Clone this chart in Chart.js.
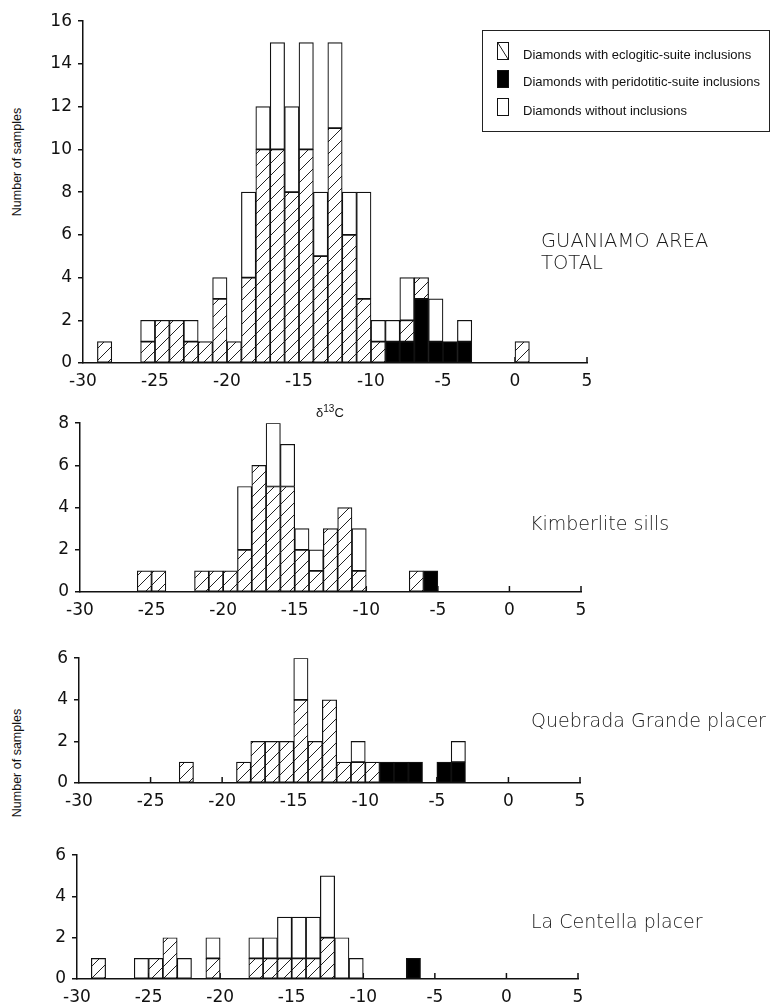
<!DOCTYPE html>
<html lang="en">
<head>
<meta charset="UTF-8" />
<title>Diamond carbon isotope histograms</title>
<script src="https://cdn.jsdelivr.net/npm/chart.js@4.4.1/dist/chart.umd.min.js"></script>
<style>
  body { margin: 0; background: #fff; width: 775px; height: 1007px; overflow: hidden; position: relative; color: #111; }
  canvas { position: absolute; }
  .lbl { position: absolute; font-family: "DejaVu Sans", sans-serif; font-weight: 300; font-size: 19px; line-height: 1; white-space: nowrap; color: #1a1a1a; }
  .ytitle { position: absolute; font-family: "Liberation Sans", Arial, sans-serif; font-size: 12.5px; white-space: nowrap; transform: translate(-50%, -50%) rotate(-90deg); }
  .legend { position: absolute; left: 482px; top: 30px; width: 288px; height: 102px; border: 1.5px solid #222; box-sizing: border-box;
            font-family: "Liberation Sans", Arial, sans-serif; font-size: 13px; }
  .legend .sw { position: absolute; left: 14px; width: 12px; height: 18px; border: 1.5px solid #111; box-sizing: border-box; background: #fff; }
  .legend .tx { position: absolute; left: 40px; white-space: nowrap; transform: translateY(-50%); }
  .delta { position: absolute; left: 316px; top: 403px; font-family: "Liberation Sans", Arial, sans-serif; font-size: 13px; }
  .delta sup { font-size: 10px; }
</style>
</head>
<body>

<canvas id="c1" width="569" height="388" style="left:33px; top:5px;"></canvas>
<canvas id="c2" width="566" height="215" style="left:30px; top:407px;"></canvas>
<canvas id="c3" width="566" height="171" style="left:29px; top:642px;"></canvas>
<canvas id="c4" width="566" height="170" style="left:27px; top:839px;"></canvas>

<div class="legend">
  <div class="sw" style="top:11px; background: linear-gradient(to top right, #fff calc(50% - 0.8px), #111 50%, #fff calc(50% + 0.8px));"></div>
  <div class="tx" style="top:23px;">Diamonds with eclogitic-suite inclusions</div>
  <div class="sw" style="top:39px; background:#000;"></div>
  <div class="tx" style="top:50px;">Diamonds with peridotitic-suite inclusions</div>
  <div class="sw" style="top:67px;"></div>
  <div class="tx" style="top:79px;">Diamonds without inclusions</div>
</div>

<div class="ytitle" style="left:17px; top:162px;">Number of samples</div>
<div class="ytitle" style="left:17px; top:763px;">Number of samples</div>
<div class="delta">&delta;<sup>13</sup>C</div>

<div class="lbl" style="left:541px; top:230px; font-size:19.5px; line-height:22px;">GUANIAMO AREA<br>TOTAL</div>
<div class="lbl" style="left:530px; top:514px;">Kimberlite sills</div>
<div class="lbl" style="left:531px; top:711px;">Quebrada Grande placer</div>
<div class="lbl" style="left:531px; top:912px;">La Centella placer</div>

<script>
// bin left edges of delta13C (1 per mil bins)
const bins = [-30, -29, -28, -27, -26, -25, -24, -23, -22, -21, -20, -19, -18, -17, -16, -15, -14, -13,
              -12, -11, -10, -9, -8, -7, -6, -5, -4, -3, -2, -1, 0, 1, 2, 3, 4];

// Guaniamo area total
const totalEclogitic   = [0,1,0,0,1,2,2,1,1,3,1,4,10,10,8,10,5,11,6,3,1,0,1,1,0,0,0,0,0,0,1,0,0,0,0];
const totalPeridotitic = [0,0,0,0,0,0,0,0,0,0,0,0,0,0,0,0,0,0,0,0,0,1,1,3,1,1,1,0,0,0,0,0,0,0,0];
const totalNone        = [0,0,0,0,1,0,0,1,0,1,0,4,2,5,4,5,3,4,2,5,1,1,2,0,2,0,1,0,0,0,0,0,0,0,0];

// Kimberlite sills
const kimbEclogitic    = [0,0,0,0,1,1,0,0,1,1,1,2,6,5,5,2,1,3,4,1,0,0,0,1,0,0,0,0,0,0,0,0,0,0,0];
const kimbPeridotitic  = [0,0,0,0,0,0,0,0,0,0,0,0,0,0,0,0,0,0,0,0,0,0,0,0,1,0,0,0,0,0,0,0,0,0,0];
const kimbNone         = [0,0,0,0,0,0,0,0,0,0,0,3,0,3,2,1,1,0,0,2,0,0,0,0,0,0,0,0,0,0,0,0,0,0,0];

// Quebrada Grande placer
const quebEclogitic    = [0,0,0,0,0,0,0,1,0,0,0,1,2,2,2,4,2,4,1,1,1,0,0,0,0,0,0,0,0,0,0,0,0,0,0];
const quebPeridotitic  = [0,0,0,0,0,0,0,0,0,0,0,0,0,0,0,0,0,0,0,0,0,1,1,1,0,1,1,0,0,0,0,0,0,0,0];
const quebNone         = [0,0,0,0,0,0,0,0,0,0,0,0,0,0,0,2,0,0,0,1,0,0,0,0,0,0,1,0,0,0,0,0,0,0,0];

// La Centella placer
const centEclogitic    = [0,1,0,0,0,1,2,0,0,1,0,0,1,1,1,1,1,2,0,0,0,0,0,0,0,0,0,0,0,0,0,0,0,0,0];
const centPeridotitic  = [0,0,0,0,0,0,0,0,0,0,0,0,0,0,0,0,0,0,0,0,0,0,0,1,0,0,0,0,0,0,0,0,0,0,0];
const centNone         = [0,0,0,0,1,0,0,1,0,1,0,0,1,1,2,2,2,3,2,1,0,0,0,0,0,0,0,0,0,0,0,0,0,0,0];

const xTicks = [-30, -25, -20, -15, -10, -5, 0, 5];

// hatch fill for eclogitic-suite bars
const tile = document.createElement('canvas');
tile.width = tile.height = 12;
const tc = tile.getContext('2d');
tc.fillStyle = '#fff';
tc.fillRect(0, 0, 12, 12);
tc.strokeStyle = '#222';
tc.lineWidth = 1;
tc.beginPath();
tc.moveTo(-3, 15); tc.lineTo(15, -3);
tc.moveTo(-3, 3);  tc.lineTo(3, -3);
tc.moveTo(9, 15);  tc.lineTo(15, 9);
tc.stroke();
const hatch = tc.createPattern(tile, 'repeat');

// small tick marks pointing up from the x axis
const upTicks = {
  id: 'upTicks',
  beforeDatasetsDraw(chart) {
    const s = chart.scales.x;
    const ctx = chart.ctx;
    ctx.save();
    ctx.strokeStyle = '#111';
    ctx.lineWidth = 1.5;
    s.ticks.forEach(t => {
      if (t.value === s.min) return;
      const x = s.getPixelForValue(t.value);
      ctx.beginPath();
      ctx.moveTo(x, s.top);
      ctx.lineTo(x, s.top - 6);
      ctx.stroke();
    });
    ctx.restore();
  }
};

function series(label, vals, fill) {
  return {
    label: label,
    data: bins.map((b, i) => ({ x: b + 0.5, y: vals[i] || null })),
    backgroundColor: fill,
    borderColor: '#111',
    borderWidth: 1.2,
    borderSkipped: false,
    barPercentage: 1,
    categoryPercentage: 1
  };
}

const tickFont = { family: 'DejaVu Sans', size: 17 };

function makeChart(id, ecl, per, none, yMax) {
  new Chart(document.getElementById(id), {
    type: 'bar',
    data: {
      datasets: [
        series('Diamonds with peridotitic-suite inclusions', per, '#000'),
        series('Diamonds with eclogitic-suite inclusions', ecl, hatch),
        series('Diamonds without inclusions', none, '#fff')
      ]
    },
    options: {
      responsive: false,
      animation: false,
      events: [],
      layout: { padding: { top: 12, right: 15, left: 0, bottom: 0 } },
      plugins: { legend: { display: false }, tooltip: { enabled: false } },
      scales: {
        x: {
          type: 'linear', min: -30, max: 5, offset: false, stacked: true,
          grid: { display: false, drawTicks: false },
          border: { color: '#111', width: 1.5 },
          afterBuildTicks: s => { s.ticks = xTicks.map(v => ({ value: v })); },
          ticks: { padding: 8, color: '#111', font: tickFont },
          afterFit: s => { s.height = 30; }
        },
        y: {
          min: 0, max: yMax, stacked: true,
          grid: { drawOnChartArea: false, drawTicks: true, tickLength: 5, color: '#111', lineWidth: 1.5 },
          border: { color: '#111', width: 1.5 },
          ticks: { stepSize: 2, padding: 6, color: '#111', font: tickFont },
          afterFit: s => { s.width = 50; }
        }
      }
    },
    plugins: [upTicks]
  });
}

makeChart('c1', totalEclogitic, totalPeridotitic, totalNone, 16);
makeChart('c2', kimbEclogitic, kimbPeridotitic, kimbNone, 8);
makeChart('c3', quebEclogitic, quebPeridotitic, quebNone, 6);
makeChart('c4', centEclogitic, centPeridotitic, centNone, 6);
</script>
</body>
</html>
